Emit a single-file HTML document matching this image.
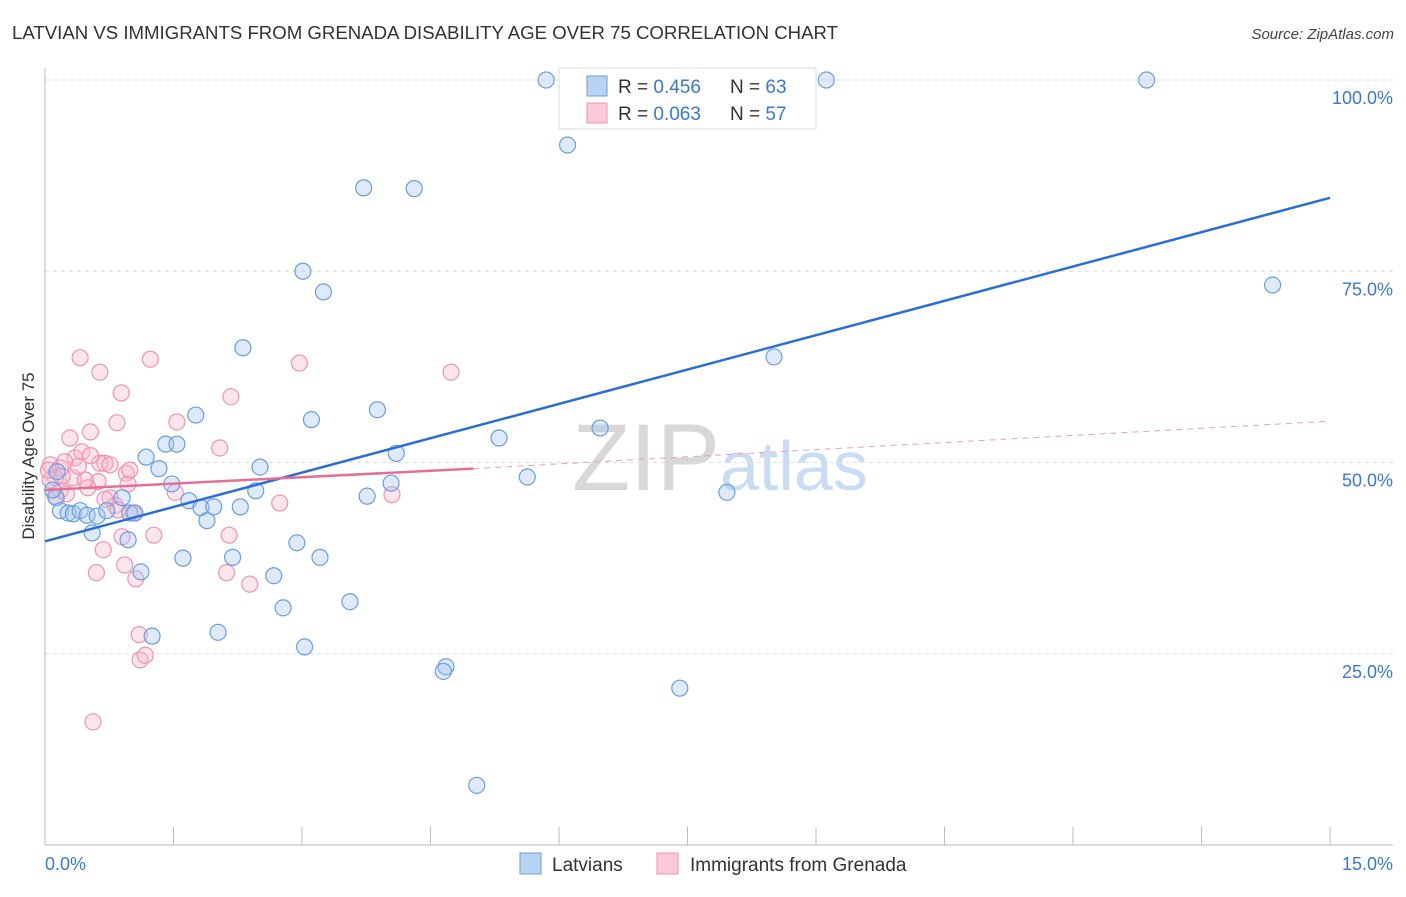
<!DOCTYPE html>
<html><head><meta charset="utf-8"><style>
body{margin:0;background:#fff;font-family:"Liberation Sans",sans-serif}
svg text{font-family:"Liberation Sans",sans-serif}
</style></head><body>
<svg id="c" width="1406" height="892" xmlns="http://www.w3.org/2000/svg">
<text x="12" y="39" font-size="18" fill="#333" textLength="826" lengthAdjust="spacingAndGlyphs">LATVIAN VS IMMIGRANTS FROM GRENADA DISABILITY AGE OVER 75 CORRELATION CHART</text>
<text x="1394" y="39" font-size="15" fill="#444" text-anchor="end" font-style="italic">Source: ZipAtlas.com</text>
<text x="720" y="490" font-size="95" fill="#ddd" text-anchor="middle" font-family="Liberation Serif"><tspan fill="#d8d8d8">ZIP</tspan><tspan fill="#c9dcf2" font-family="Liberation Sans" font-size="70">atlas</tspan></text>
<g id="grid"></g><g id="axes"></g><g id="marks"></g>
<text transform="translate(34,456) rotate(-90)" font-size="17" fill="#333" text-anchor="middle">Disability Age Over 75</text>
<g>
<rect x="559" y="68" width="257" height="61" fill="#fff" stroke="#ddd"/>
<rect x="587" y="76" width="20" height="20" fill="#b8d4f5" stroke="#6a9ee0"/>
<rect x="587" y="103" width="20" height="20" fill="#fbc9d9" stroke="#ee94b1"/>
<text x="618" y="93" font-size="19" fill="#333">R = <tspan fill="#3a78d4">0.456</tspan><tspan x="730">N = </tspan><tspan fill="#3a78d4">63</tspan></text>
<text x="618" y="120" font-size="19" fill="#333">R = <tspan fill="#3a78d4">0.063</tspan><tspan x="730">N = </tspan><tspan fill="#3a78d4">57</tspan></text>
</g>
<g>
<rect x="520" y="853" width="21" height="21" fill="#b8d4f5" stroke="#6a9ee0"/>
<text x="552" y="871" font-size="19" fill="#333">Latvians</text>
<rect x="657" y="853" width="21" height="21" fill="#fbc9d9" stroke="#ee94b1"/>
<text x="690" y="871" font-size="19" fill="#333">Immigrants from Grenada</text>
</g>
</svg>
<script>
const yTicks=[25,50,75,100];
const yTickLabels=["25.0%","50.0%","75.0%","100.0%"];
const xTicks=[0,1.5,3,4.5,6,7.5,9,10.5,12,13.5,15];
const blueX=[5.85,9.12,12.86,6.10,3.72,4.31,3.01,3.25,14.33,2.31,8.51,3.88,1.76,3.11,6.48,5.30,1.41,1.54,4.10,1.18,1.33,2.51,1.48,4.04,5.63,7.96,2.46,3.76,0.13,0.90,1.68,1.82,1.97,2.28,0.18,0.27,0.33,0.41,0.49,0.61,0.72,0.99,1.05,1.89,0.55,0.97,2.94,1.61,2.19,3.21,1.12,2.67,2.78,3.56,2.02,1.25,3.03,4.68,4.65,7.41,5.04,0.14,0.09];
const blueY=[100,100,100,91.5,85.9,85.8,75.0,72.3,73.2,65.0,63.8,56.9,56.2,55.6,54.5,53.2,52.4,52.4,51.2,50.7,49.2,49.4,47.2,47.3,48.1,46.1,46.3,45.6,45.4,45.4,45.0,44.1,44.2,44.2,43.7,43.4,43.3,43.7,43.1,43.0,43.7,43.4,43.4,42.4,40.8,39.9,39.5,37.5,37.6,37.6,35.7,35.2,31.0,31.8,27.8,27.3,25.9,23.3,22.7,20.5,7.8,48.8,46.4];
const pinkX=[0.41,1.23,2.97,4.74,0.64,0.89,2.17,1.54,0.84,0.53,0.29,2.04,0.06,0.18,0.35,0.43,0.23,0.70,0.64,0.95,0.33,0.12,0.62,0.97,0.50,0.18,1.52,4.05,0.76,0.12,0.25,0.82,2.74,1.03,0.85,0.90,1.27,2.15,0.68,0.93,0.60,2.12,1.06,2.39,1.10,1.11,1.17,0.56,0.06,0.04,0.47,0.20,0.39,0.53,0.70,0.99,0.76];
const pinkY=[63.7,63.5,63.0,61.8,61.8,59.1,58.6,55.3,55.2,54.0,53.2,51.9,49.7,49.3,50.6,51.4,50.1,49.9,49.9,48.6,48.0,48.0,47.5,47.2,46.7,46.4,46.1,45.8,45.4,45.6,45.9,44.4,44.7,43.4,43.8,40.3,40.5,40.5,38.6,36.6,35.6,35.6,34.8,34.1,27.5,24.2,24.8,16.1,47.7,49.0,47.7,48.2,49.5,50.9,45.2,49.0,49.7];
const blueTrend=[39.7,84.6];
const pinkTrend=[46.4,49.2,55.4];
const pinkSolidEnd=5.0;
const X=v=>45+v/15*1285, Y=v=>845-v/100*765;
const NS="http://www.w3.org/2000/svg";
function mk(p,t,a){const e=document.createElementNS(NS,t);for(const k in a)e.setAttribute(k,a[k]);p.appendChild(e);return e;}
const grid=document.getElementById('grid'),axes=document.getElementById('axes'),marks=document.getElementById('marks');
yTicks.forEach((t,i)=>{
 const l=mk(grid,'line',{x1:45,x2:1393,y1:Y(t),y2:Y(t),stroke:'#ddd','stroke-dasharray':'4,4'});
 
 
 const tx=mk(axes,'text',{x:1393,y:Y(t)+24,'font-size':18,fill:'#3a78d4','text-anchor':'end'});
 tx.textContent=yTickLabels[i];
 
 
});
const ax=mk(axes,'line',{x1:45,x2:1393,y1:845,y2:845,stroke:'#bbb'});


const ay=mk(axes,'line',{x1:45,x2:45,y1:68,y2:845,stroke:'#bbb'});


xTicks.forEach(t=>{const l=mk(axes,'line',{x1:X(t),x2:X(t),y1:827,y2:845,stroke:'#bbb'});
 
 });
const xl0=mk(axes,'text',{x:45,y:870,'font-size':18,fill:'#3a78d4'});xl0.textContent='0.0%';


const xl1=mk(axes,'text',{x:1393,y:870,'font-size':18,fill:'#3a78d4','text-anchor':'end'});xl1.textContent='15.0%';


pinkX.forEach((v,i)=>{const c=mk(marks,'circle',{cx:X(v),cy:Y(pinkY[i]),r:8,fill:'rgba(248,180,204,0.35)',stroke:'#ee94b1','stroke-width':1.2});
 
 });
blueX.forEach((v,i)=>{const c=mk(marks,'circle',{cx:X(v),cy:Y(blueY[i]),r:8,fill:'rgba(160,196,240,0.35)',stroke:'#6a9ee0','stroke-width':1.2});
 
 });
const bt=mk(marks,'line',{x1:X(0),y1:Y(blueTrend[0]),x2:X(15),y2:Y(blueTrend[1]),stroke:'#2a6fd6','stroke-width':2.5});


const pt=mk(marks,'line',{x1:X(0),y1:Y(pinkTrend[0]),x2:X(pinkSolidEnd),y2:Y(pinkTrend[1]),stroke:'#e4709a','stroke-width':2.5});


const pd=mk(marks,'line',{x1:X(pinkSolidEnd),y1:Y(pinkTrend[1]),x2:X(15),y2:Y(pinkTrend[2]),stroke:'#e8a0b8','stroke-width':1,'stroke-dasharray':'6,5'});


</script>
</body></html>
